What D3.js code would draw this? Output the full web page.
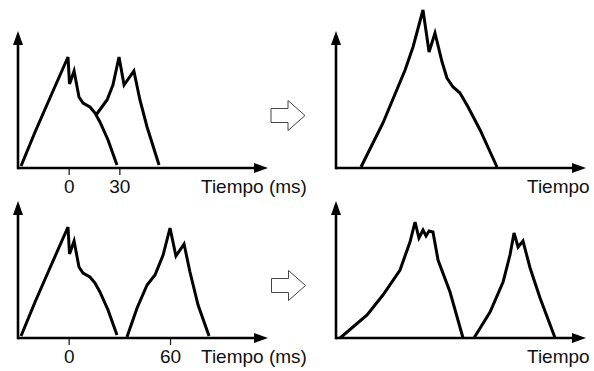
<!DOCTYPE html>
<html>
<head>
<meta charset="utf-8">
<script src="https://cdn.jsdelivr.net/npm/d3@7"></script>
<style>
  body { margin: 0; background: #fff; }
  svg { display: block; }
  text { font-family: "Liberation Sans", Arial, sans-serif; fill: #111; }
</style>
</head>
<body>
<div id="chart"></div>
<script>
// time (ms) / amplitude (arbitrary units) pairs
const pulsoA = [[-28.2, 2], [-19.9, 36], [-11.1, 70], [-0.4, 111], [0.5, 84], [3.2, 97],
                [6.1, 71], [8.5, 65], [12.6, 61], [15.6, 55], [18.5, 46], [23.3, 28], [28.6, 3]];
const pulsoB30 = [[16.2, 53], [22.7, 68], [26.2, 83], [29.8, 111], [32.8, 83], [38.6, 97],
                  [42.2, 68], [46.4, 41], [53.5, 3]];
const pulsoC60 = [[34.5, 1], [40.5, 30], [46.4, 53], [51.1, 63], [55.9, 83], [60.0, 110],
                  [63.5, 82], [68.3, 94], [71.8, 66], [76.6, 33], [83.1, 2]];
const sumaSolapada = [[-15.2, 1], [-2.2, 45], [10.9, 98], [15.6, 121], [21.5, 158], [25.1, 116],
                      [28.6, 135], [32.8, 106], [35.7, 90], [39.3, 81], [43.4, 75], [48.2, 61],
                      [55.3, 38], [65.3, 1]];
const separado1 = [[-27.6, 0], [-11.6, 23], [-2.2, 43], [7.9, 68], [13.8, 96], [16.8, 116],
                   [19.1, 100], [21.5, 108], [23.3, 102], [25.1, 107], [27.4, 106], [30.4, 78],
                   [37.5, 46], [45.2, 0]];
const separado2 = [[51.7, 0], [61.2, 26], [68.9, 56], [73.0, 83], [75.4, 105], [77.8, 91],
                   [80.7, 97], [84.9, 70], [90.8, 40], [99.7, 0]];

const ticksArriba = [0, 30];
const ticksAbajo = [0, 60];
const etiquetaMs = "Tiempo (ms)";
const etiquetaT = "Tiempo";

const width = 594, height = 371;

const svg = d3.select("#chart").append("svg")
    .attr("width", width)
    .attr("height", height);

// shared scales for every panel (local coords, origin at axis corner)
const x = d3.scaleLinear().domain([-30, 118]).range([0, 250]);
const y = d3.scaleLinear().domain([0, 135]).range([0, -135]);

const line = d3.line()
    .x(d => x(d[0]))
    .y(d => y(d[1]));

const panels = [
    {ox: 18, oy: 168, curves: [pulsoA, pulsoB30], ticks: ticksArriba, label: etiquetaMs, lx: 183},
    {ox: 336, oy: 168, curves: [sumaSolapada], ticks: null, label: etiquetaT, lx: 191},
    {ox: 18, oy: 338, curves: [pulsoA, pulsoC60], ticks: ticksAbajo, label: etiquetaMs, lx: 183},
    {ox: 336, oy: 338, curves: [separado1, separado2], ticks: null, label: etiquetaT, lx: 191}
];

panels.forEach(p => {
    let g = svg.append("g")
        .attr("transform", "translate(" + p.ox + "," + p.oy + ")");

    if (p.ticks) {
        let axis = d3.axisBottom(x)
            .tickValues(p.ticks)
            .tickSize(7)
            .tickPadding(4.5)
            .tickFormat(d3.format("d"));
        let ax = g.append("g").call(axis);
        ax.select(".domain").remove();
        ax.selectAll("line").attr("stroke", "#222").attr("stroke-width", 1.3);
        ax.selectAll("text")
            .attr("font-size", 19)
            .attr("font-family", "Liberation Sans, Arial, sans-serif")
            .attr("fill", "#111");
    }

    // curves
    g.selectAll(".curva")
        .data(p.curves)
        .enter().append("path")
        .attr("class", "curva")
        .attr("d", line)
        .attr("fill", "none")
        .attr("stroke", "#000")
        .attr("stroke-width", 3);

    // axes with arrow heads
    g.append("line")
        .attr("x1", 0).attr("y1", 0)
        .attr("x2", 237).attr("y2", 0)
        .attr("stroke", "#000").attr("stroke-width", 2.6);
    g.append("line")
        .attr("x1", 0).attr("y1", 1.3)
        .attr("x2", 0).attr("y2", -123)
        .attr("stroke", "#000").attr("stroke-width", 2.6);
    g.append("path")
        .attr("d", "M250,0 L236,-5 L236,5 Z")
        .attr("fill", "#000");
    g.append("path")
        .attr("d", "M0,-137 L-5,-123 L5,-123 Z")
        .attr("fill", "#000");

    g.append("text")
        .attr("x", p.lx)
        .attr("y", 25)
        .attr("font-size", 19)
        .text(p.label);
});

// hollow arrows between panels
function flecha(cx, cy) {
    let pts = [[-17, -7], [0, -7], [0, -15], [17, 0], [0, 15], [0, 7], [-17, 7]];
    svg.append("path")
        .attr("d", "M" + pts.map(q => (cx + q[0]) + "," + (cy + q[1])).join("L") + "Z")
        .attr("fill", "#fff")
        .attr("stroke", "#444")
        .attr("stroke-width", 1);
}
flecha(288, 115.5);
flecha(288.5, 285.5);
</script>
</body>
</html>
